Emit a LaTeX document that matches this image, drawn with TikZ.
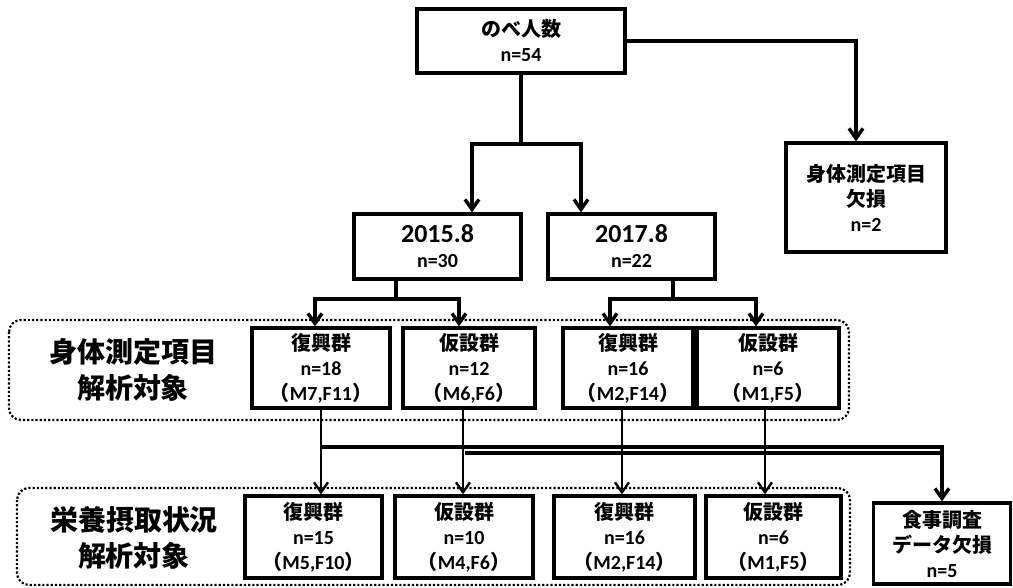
\documentclass[tikz,border=0pt]{standalone}
\usepackage{fontspec}
\setmainfont{Carlito}
\newfontfamily\jp{Noto Sans CJK JP}
\usetikzlibrary{arrows.meta}

\begin{document}
\begin{tikzpicture}[%
        x=1pt, y=-1pt,
        every node/.style={rectangle, inner sep=0pt, align=center,
          font=\bfseries\fontsize{20}{25}\selectfont},
        box/.style={draw, line width=3.2pt},
        grp/.style={draw, line width=3.2pt, minimum height=80pt},
        rowtext/.style={font=\jp\bfseries\fontsize{28}{36}\selectfont},
        frame/.style={draw, dotted, line width=2.2pt, rounded corners=12pt},
        fine/.style={line width=2.4pt},
        line width=3.4pt, >={Straight Barb[length=10pt,width=14pt]}
      ]
      \useasboundingbox (0,0) rectangle (1013,587);

      % dotted frames
      \draw [frame] (9,320) rectangle (849,420);
      \draw [frame] (17,488) rectangle (850,585);
      \node [] (row1) [rowtext] at (133,370) {身体測定項目\\解析対象};
      \node [] (row2) [rowtext] at (134,538) {栄養摂取状況\\解析対象};

      % top part
      \node [] (all) [box, minimum width=208pt, minimum height=64pt] at (521,41)
        {{\jp のべ人数}\\n=54};
      \node [] (lack1) [box, minimum width=160pt, minimum height=109pt] at (866,197.5)
        {{\jp 身体測定項目}\\{\jp 欠損}\\n=2};
      \node [] (y15) [box, minimum width=167pt, minimum height=65pt] at (437.5,246.5)
        {{\fontsize{26}{30}\selectfont 2015.8}\\n=30};
      \node [] (y17) [box, minimum width=167pt, minimum height=65pt] at (631.5,246.5)
        {{\fontsize{26}{30}\selectfont 2017.8}\\n=22};

      % 身体測定項目
      \node [] (r1) [grp, minimum width=138pt] at (321,368)
        {{\jp 復興群}\\n=18\\{\jp （}M7,F11{\jp ）}};
      \node [] (k1) [grp, minimum width=132pt] at (469,368)
        {{\jp 仮設群}\\n=12\\{\jp （}M6,F6{\jp ）}};
      \node [] (r2) [grp, minimum width=130pt] at (628,368)
        {{\jp 復興群}\\n=16\\{\jp （}M2,F14{\jp ）}};
      \node [] (k2) [grp, minimum width=142pt] at (768,368)
        {{\jp 仮設群}\\n=6\\{\jp （}M1,F5{\jp ）}};

      % 栄養摂取状況
      \node [] (r3) [grp, minimum width=137pt, minimum height=82pt] at (313.5,537)
        {{\jp 復興群}\\n=15\\{\jp （}M5,F10{\jp ）}};
      \node [] (k3) [grp, minimum width=138pt, minimum height=82pt] at (464,537)
        {{\jp 仮設群}\\n=10\\{\jp （}M4,F6{\jp ）}};
      \node [] (r4) [grp, minimum width=141pt, minimum height=82pt] at (624.5,537)
        {{\jp 復興群}\\n=16\\{\jp （}M2,F14{\jp ）}};
      \node [] (k4) [grp, minimum width=135pt, minimum height=82pt] at (773.5,537)
        {{\jp 仮設群}\\n=6\\{\jp （}M1,F5{\jp ）}};
      \node [] (lack2) [box, minimum width=137pt, minimum height=81pt] at (942,543.5)
        {{\jp 食事調査}\\{\jp データ欠損}\\n=5};

      % connectors
      \coordinate (s0) at (521,144);
      \coordinate (s1) at (396,299);
      \coordinate (s2) at (673,299);
      \coordinate (h1) at (320,447);
      \coordinate (h2) at (465,453);

      \draw (all) -- (s0);
      \draw [->] (s0) -| ([xshift=34.5]y15.north);
      \draw [->] (s0) -| ([xshift=-50.5]y17.north);
      \draw [->] (all) -| ([xshift=-10]lack1.north);

      \draw (s1 |- y15.south) -- (s1);
      \draw [->] (s1) -| ([xshift=-6]r1.north);
      \draw [->] (s1) -| ([xshift=-10]k1.north);
      \draw (s2 |- y17.south) -- (s2);
      \draw [->] (s2) -| ([xshift=-18]r2.north);
      \draw [->] (s2) -| ([xshift=-12]k2.north);

      \draw [->, fine] (r1.south) -- (r1.south |- r3.north);
      \draw [->, fine] ([xshift=-6]k1.south) -- ([xshift=-6]k1.south |- k3.north);
      \draw [->, fine] ([xshift=-6]r2.south) -- ([xshift=-6]r2.south |- r4.north);
      \draw [->, fine] ([xshift=-3]k2.south) -- ([xshift=-3]k2.south |- k4.north);

      \draw [->] (h1) -| (lack2.north);
      \draw (h2) -- (h2 -| lack2.north);
    \end{tikzpicture}
\end{document}
